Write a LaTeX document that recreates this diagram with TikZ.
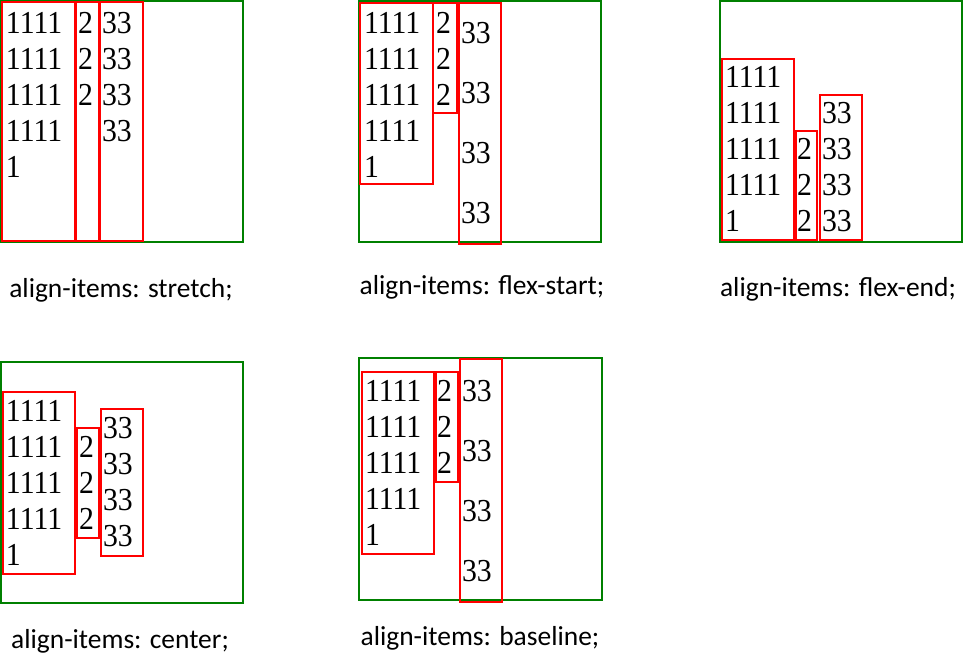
\documentclass[tikz,border=0pt]{standalone}
\usepackage{fontspec}
\usepackage{tikz}
\usepackage{xcolor}
\newfontfamily\digitfont[FakeStretch=0.93]{Liberation Serif}
\newfontfamily\labelfont{Carlito}
\definecolor{boxgreen}{RGB}{0,128,0}
\definecolor{itemred}{RGB}{255,0,0}
\newcommand{\colone}{1111\\1111\\1111\\1111\\1}
\newcommand{\coltwo}{2\\2\\2}
\newcommand{\colthree}{33\\33\\33\\33}
\newcommand{\tightlines}{\fontsize{24}{27}\selectfont}
\newcommand{\looselines}{\fontsize{24}{45}\selectfont}

\begin{document}
\begin{tikzpicture}[x=0.75pt,y=-0.75pt]
\tikzstyle{every node}=[inner sep=0pt,outer sep=0pt]
\tikzstyle{outerbox}=[draw=boxgreen,line width=1.5pt]
\tikzstyle{itembox}=[draw=itemred,line width=1.5pt]
\tikzstyle{items}=[anchor=base west,align=left,font=\digitfont\tightlines]
\tikzstyle{tallitems}=[anchor=base west,align=left,font=\digitfont\looselines]
\tikzstyle{caption}=[anchor=base,font=\labelfont\fontsize{20.6}{22}\selectfont]
\useasboundingbox (0,0) rectangle (963,662);

% stretch
\draw[outerbox] (1,1) rectangle (243,242);
\draw[itembox] (2,2) rectangle (75,241);
\draw[itembox] (76,2) rectangle (99,241);
\draw[itembox] (100,2) rectangle (143,241);
\node[items] (sa) at (6,177) {\colone};
\node[items] (sb) at (78,105) {\coltwo};
\node[items] (sc) at (102,141) {\colthree};
\node[caption] (stretch) at (121,297) {align-items: stretch;};

% flex-start
\draw[outerbox] (359,1) rectangle (601,242);
\draw[itembox] (360,3) rectangle (433,184);
\draw[itembox] (433,3) rectangle (457,113);
\draw[itembox] (459,3) rectangle (501,244);
\node[items] (fsa) at (364,177) {\colone};
\node[items] (fsb) at (436,105) {\coltwo};
\node[tallitems] (fsc) at (461,223) {\colthree};
\node[caption] (start) at (482,294) {align-items: flex-start;};

% flex-end
\draw[outerbox] (720,1) rectangle (962,242);
\draw[itembox] (722,59) rectangle (794,240);
\draw[itembox] (796,131) rectangle (817,240);
\draw[itembox] (820,95) rectangle (862,240);
\node[items] (fea) at (725,231) {\colone};
\node[items] (feb) at (797,231) {\coltwo};
\node[items] (fec) at (822,231) {\colthree};
\node[caption] (end) at (838,296) {align-items: flex-end;};

% center
\draw[outerbox] (1,362) rectangle (243,603);
\draw[itembox] (3,392) rectangle (75,574);
\draw[itembox] (77,428) rectangle (99,538);
\draw[itembox] (101,409) rectangle (143,556);
\node[items] (ca) at (6,565) {\colone};
\node[items] (cb) at (79,529) {\coltwo};
\node[items] (cc) at (103,546) {\colthree};
\node[caption] (center) at (120,648) {align-items: center;};

% baseline
\draw[outerbox] (359,358) rectangle (602,600);
\draw[itembox] (362,372) rectangle (434,554);
\draw[itembox] (436,372) rectangle (458,482);
\draw[itembox] (460,359) rectangle (502,602);
\node[items] (ba) at (365,545) {\colone};
\node[items] (bb) at (437,473) {\coltwo};
\node[tallitems] (bc) at (462,581) {\colthree};
\node[caption] (base) at (480,645) {align-items: baseline;};
\end{tikzpicture}
\end{document}
